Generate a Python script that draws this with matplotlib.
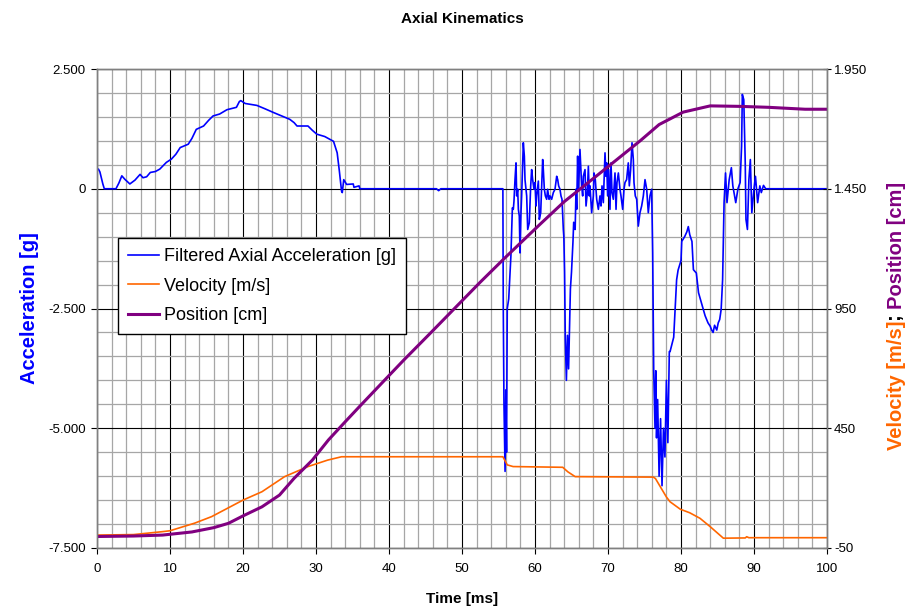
import numpy as np
import matplotlib
matplotlib.use("Agg")
import matplotlib.pyplot as plt
from matplotlib.ticker import MultipleLocator, FixedLocator, FixedFormatter

plt.rcParams['font.family'] = ['Liberation Sans', 'DejaVu Sans']

# filtered axial acceleration [g] as (time ms, value)
acc_launch = [(0, 0.41), (0.2, 0.41), (0.4, 0.35), (0.8, 0.1), (1.0, 0.0), (2.6, 0.0), (3.0, 0.12),
              (3.4, 0.27), (3.8, 0.2), (4.5, 0.1), (5.2, 0.18), (5.9, 0.3), (6.3, 0.23), (6.8, 0.25),
              (7.3, 0.34), (8.0, 0.36), (8.6, 0.41), (9.5, 0.55), (10.2, 0.62), (10.8, 0.72),
              (11.4, 0.86), (12.5, 0.93), (13.0, 1.05), (13.6, 1.24), (14.6, 1.31), (15.3, 1.43),
              (15.9, 1.52), (16.8, 1.56), (17.8, 1.65), (19.1, 1.70), (19.5, 1.82), (19.7, 1.84),
              (20.3, 1.78), (21.9, 1.74), (23.0, 1.67), (24.2, 1.59), (25.3, 1.52), (26.4, 1.45),
              (27.0, 1.38), (27.4, 1.31), (28.9, 1.31), (29.5, 1.22), (30.1, 1.14), (31.2, 1.09),
              (32.4, 0.99), (32.7, 0.85), (32.9, 0.75), (33.2, 0.37), (33.5, -0.05), (33.6, -0.08),
              (33.8, 0.19), (34.2, 0.09), (35.1, 0.1), (35.2, 0.03), (35.9, 0.06), (36.0, 0.0),
              (46.5, 0.0), (46.8, -0.04), (47.1, 0.0), (55.6, 0.0)]
acc_impact1 = [(55.65, -2.4), (55.75, -4.5), (55.9, -5.9), (56.0, -4.2), (56.1, -5.5), (56.2, -2.5),
               (56.4, -2.3), (56.6, -1.7), (56.7, -1.4), (56.9, -0.4), (57.03, -0.43), (57.12, -0.26),
               (57.26, 0.19), (57.40, 0.54), (57.49, -0.15), (57.63, -0.01), (57.72, -0.43),
               (57.85, -0.57), (57.95, -1.34), (58.08, -0.50), (58.17, -0.15), (58.31, 0.54),
               (58.40, 0.96), (58.54, 0.68), (58.63, 0.19), (58.86, -0.15), (59.00, -0.85),
               (59.22, -0.71), (59.41, 0.06), (59.54, 0.40), (59.68, 0.19), (59.86, -0.01),
               (60.00, 0.13), (60.14, -0.36), (60.23, -0.15), (60.46, 0.16), (60.59, -0.64),
               (60.78, -0.50), (60.91, 0.06), (61.05, 0.61), (61.14, 0.40), (61.28, -0.01),
               (61.42, -0.15), (61.60, -0.22), (61.73, -0.01), (61.92, -0.22), (62.05, -0.15),
               (62.28, -0.22), (62.51, -0.08), (62.74, -0.01), (62.97, 0.26), (63.11, 0.19),
               (63.24, 0.06), (63.42, -0.01), (63.56, -0.15), (63.70, -0.22), (63.88, -0.85)]
acc_impact2 = [(63.95, -1.0), (64.05, -1.74), (64.15, -3.13), (64.3, -4.0), (64.45, -3.06),
               (64.6, -3.76), (64.7, -3.06), (64.85, -2.09), (65.0, -1.74), (65.2, -1.11),
               (65.3, -0.7), (65.5, -0.85), (65.62, -0.01), (65.71, -0.43), (65.84, 0.68),
               (65.94, -0.01), (66.03, 0.26), (66.16, 0.82), (66.39, 0.06), (66.53, -0.15),
               (66.62, 0.26), (66.85, 0.40), (66.99, -0.36), (67.17, -0.08), (67.31, 0.47),
               (67.44, -0.15), (67.53, 0.06), (67.76, -0.50), (67.99, -0.15), (68.08, 0.33),
               (68.26, 0.19), (68.45, -0.22), (68.68, -0.43), (68.90, -0.15), (69.04, -0.36),
               (69.18, 0.06), (69.36, -0.29), (69.59, 0.75), (69.73, 0.26), (69.82, 0.54),
               (69.95, -0.15), (70.09, 0.40), (70.27, -0.43), (70.41, 0.54), (70.55, -0.08),
               (70.73, -0.22), (70.96, 0.33), (71.10, -0.43), (71.23, 0.13), (71.42, 0.33),
               (71.64, -0.01), (71.78, -0.15), (72.01, -0.43), (72.19, -0.01), (72.33, 0.13),
               (72.55, 0.19), (72.78, 0.54), (72.92, 0.06), (73.10, 0.40), (73.29, 0.96),
               (73.47, 0.61), (73.56, 0.13), (73.74, -0.15), (73.93, -0.22), (74.15, -0.78),
               (74.38, -0.50), (74.61, -0.36), (74.84, -0.15), (75.07, 0.19), (75.30, -0.01),
               (75.52, -0.50), (75.75, -0.15), (75.98, -0.01), (76.12, -1.34)]
acc_impact3 = [(76.26, -3.77), (76.44, -5.0), (76.55, -3.8), (76.65, -5.2), (76.8, -4.4),
               (77.0, -6.0), (77.2, -4.8), (77.4, -6.2), (77.6, -5.0), (77.8, -5.6), (78.0, -4.0),
               (78.2, -5.3), (78.4, -3.4), (78.5, -3.4), (79.0, -3.1), (79.2, -2.5), (79.4, -1.9),
               (79.6, -1.7), (80.0, -1.5), (80.1, -1.1), (80.5, -1.0), (80.8, -0.9), (81.0, -0.79),
               (81.2, -0.96), (81.5, -1.1), (81.7, -1.69), (82.1, -1.76), (82.4, -2.17),
               (82.8, -2.38), (83.3, -2.65), (83.7, -2.8), (84.0, -2.87), (84.2, -2.95),
               (84.4, -3.0), (84.6, -2.85), (84.9, -2.95), (85.1, -2.8), (85.3, -2.73),
               (85.5, -2.52), (85.7, -1.9), (85.9, -0.29), (86.1, 0.33), (86.3, -0.29),
               (86.6, 0.19), (86.9, 0.44), (87.1, 0.06), (87.5, -0.29), (87.8, 0.0), (88.1, 0.13),
               (88.3, 0.89), (88.4, 1.97), (88.6, 1.86), (88.8, 0.54), (88.9, -0.64),
               (89.1, -0.85), (89.3, 0.19), (89.5, 0.61), (89.7, -0.5), (90.0, 0.0), (90.2, 0.26),
               (90.5, -0.29), (90.8, 0.06), (91.0, -0.08), (91.3, 0.07), (91.6, 0.0), (100, 0.0)]

# velocity [m/s]
vel_t = [0, 5, 8.9, 10, 13.4, 15.7, 20, 22.6, 25.7, 28.9, 31.6, 33.5, 55.6, 56.2, 57, 63.8, 64.5,
         65.5, 76.2, 76.5, 78, 78.5, 79.9, 81.2, 82.6, 84, 85.8, 88.8, 89.0, 89.3, 100]
vel = [4, 6, 18, 22, 54, 81, 150, 185, 248, 290, 317, 331, 331, 297, 290, 287, 268, 248, 246, 240,
       163, 143, 112, 97, 74, 39, -9, -8, -3, -7, -7]

# position [cm]
pos_t = [0, 5, 9, 13, 16, 18, 20, 22.6, 25, 27, 29.5, 31.7, 34, 36, 38, 42, 45.6, 52.5, 56, 60.7,
         64, 68.9, 74.4, 77, 80.3, 84, 88, 92, 97, 100]
pos = [-2, 0, 4, 17, 35, 53, 84, 122, 171, 241, 317, 401, 477, 542, 606, 734, 845, 1060, 1165, 1302,
       1396, 1515, 1650, 1718, 1770, 1796, 1794, 1790, 1782, 1782]

x_ticks = [0, 10, 20, 30, 40, 50, 60, 70, 80, 90, 100]
acc_ticks = [-7.5, -5.0, -2.5, 0.0, 2.5]
acc_labels = ['-7.500', '-5.000', '-2.500', '0', '2.500']
right_ticks = [-50, 450, 950, 1450, 1950]
right_labels = ['-50', '450', '950', '1.450', '1.950']

blue = '#0000FF'
orange = '#FF6600'
purple = '#800080'

acc = np.array(acc_launch + acc_impact1 + acc_impact2 + acc_impact3)

fig = plt.figure(figsize=(9.24, 6.11), dpi=100)
fig.patch.set_facecolor('white')
ax = fig.add_axes([97 / 924, 1 - 548 / 611, 730 / 924, 479 / 611])
ax2 = ax.twinx()

l1, = ax.plot(acc[:, 0], acc[:, 1], color=blue, lw=1.2, label='Filtered Axial Acceleration [g]')
l2, = ax2.plot(vel_t, vel, color=orange, lw=1.2, label='Velocity [m/s]')
l3, = ax2.plot(pos_t, pos, color=purple, lw=2.2, label='Position [cm]')

ax.set_xlim(0, 100)
ax.set_ylim(-7.5, 2.5)
ax2.set_ylim(-50, 1950)

ax.xaxis.set_major_locator(FixedLocator(x_ticks))
ax.xaxis.set_minor_locator(MultipleLocator(2))
ax.yaxis.set_major_locator(FixedLocator(acc_ticks))
ax.yaxis.set_major_formatter(FixedFormatter(acc_labels))
ax.yaxis.set_minor_locator(MultipleLocator(0.5))
ax2.yaxis.set_major_locator(FixedLocator(right_ticks))
ax2.yaxis.set_major_formatter(FixedFormatter(right_labels))

ax.grid(which='minor', color='#A6A6A6', lw=0.9)
ax.grid(which='major', color='black', lw=0.8)
ax.set_axisbelow(True)

for a in (ax, ax2):
    for s in a.spines.values():
        s.set_color('#808080')
        s.set_linewidth(1.0)
ax.tick_params(axis='y', which='major', direction='out', length=4, width=0.8, labelsize=9.5, pad=4)
ax.tick_params(axis='x', which='major', direction='out', length=4, width=0.8, labelsize=9.5, pad=7)
ax.tick_params(which='minor', length=0)
ax2.tick_params(which='major', direction='inout', length=6, width=0.8, labelsize=9.5, pad=2)
ax2.tick_params(which='minor', length=0)

ax.set_xlabel('Time [ms]', fontsize=11, fontweight='bold', labelpad=12)
ax.set_ylabel('Acceleration [g]', fontsize=14.5, fontweight='bold', color=blue, labelpad=7)
fig.text(0.5, 1 - 19 / 611, 'Axial Kinematics', ha='center', va='center',
         fontsize=11, fontweight='bold')

leg = ax2.legend(handles=[l1, l2, l3], loc='upper left', bbox_to_anchor=(0.0288, 0.647),
                 borderaxespad=0, fontsize=13, frameon=True, fancybox=False, framealpha=1,
                 edgecolor='black', handlelength=1.7, handletextpad=0.3, borderpad=0.55,
                 labelspacing=0.7)
leg.get_frame().set_linewidth(1.0)

# right axis label in three colours
fig.canvas.draw()
r = fig.canvas.get_renderer()
parts = [('Velocity [m/s]', orange), ('; ', 'black'), ('Position [cm]', purple)]
txts = []
for s, c in parts:
    txts.append(fig.text(0, 0, s, rotation=90, ha='center', va='bottom', color=c,
                         fontsize=14.5, fontweight='bold'))
heights = [t.get_window_extent(r).height for t in txts]
y = 1 - 316 / 611 - sum(heights) / 2 / fig.bbox.height
for t, h in zip(txts, heights):
    t.set_position((896 / 924, y))
    y += h / fig.bbox.height

fig.savefig('out.png', dpi=100)
